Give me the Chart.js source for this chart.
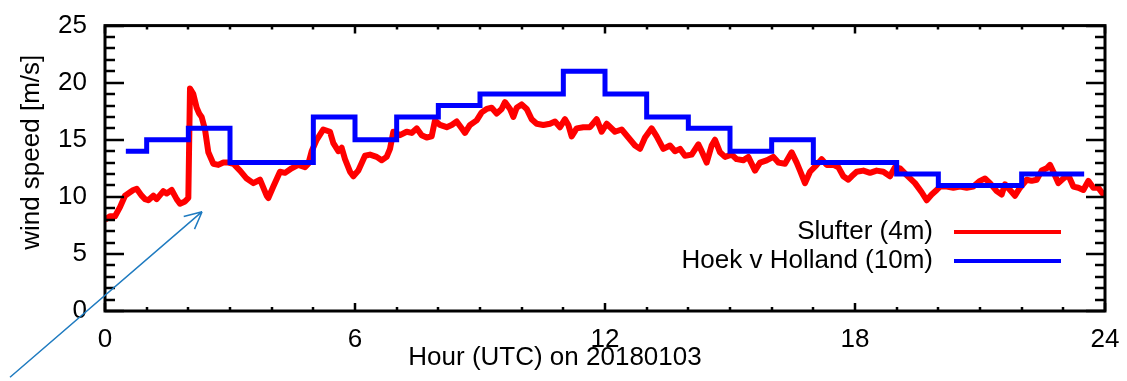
<!DOCTYPE html>
<html>
<head>
<meta charset="utf-8">
<script src="https://cdn.jsdelivr.net/npm/chart.js@4"></script>
<style>
  html, body { margin: 0; padding: 0; background: #fff; }
  #wrap { width: 1127px; height: 381px; }
</style>
</head>
<body>
<div id="wrap"><canvas id="chart" width="1127" height="381"></canvas></div>
<script>
// Hoek v Holland (10m): hourly means, plotted on the half hour
const hoekHours = [0.5, 1.5, 2.5, 3.5, 4.5, 5.5, 6.5, 7.5, 8.5, 9.5, 10.5, 11.5,
    12.5, 13.5, 14.5, 15.5, 16.5, 17.5, 18.5, 19.5, 20.5, 21.5, 22.5, 23.5];
const hoekSpeed = [14, 15, 16, 13, 13, 17, 15, 17, 18, 19, 19, 21,
    19, 17, 16, 14, 15, 13, 13, 12, 11, 11, 12, 12];

// Slufter (4m)
const slufterHours = [0.00, 0.12, 0.24, 0.36, 0.48, 0.60, 0.68, 0.76, 0.88, 0.96,
    1.04, 1.16, 1.24, 1.40, 1.48, 1.60, 1.72, 1.80, 1.92, 2.00,
    2.04, 2.12, 2.20, 2.26, 2.32, 2.40, 2.48, 2.60, 2.72, 2.84,
    2.96, 3.08, 3.24, 3.40, 3.56, 3.72, 3.88, 3.92, 4.04, 4.20,
    4.32, 4.48, 4.64, 4.80, 4.88, 4.96, 5.08, 5.24, 5.40, 5.48,
    5.60, 5.68, 5.76, 5.88, 5.96, 6.08, 6.24, 6.36, 6.52, 6.64,
    6.76, 6.84, 6.92, 7.08, 7.24, 7.36, 7.48, 7.60, 7.72, 7.84,
    7.92, 8.04, 8.20, 8.32, 8.44, 8.56, 8.64, 8.76, 8.92, 9.04,
    9.16, 9.28, 9.40, 9.52, 9.60, 9.72, 9.80, 9.88, 10.00, 10.12,
    10.24, 10.36, 10.52, 10.68, 10.80, 10.92, 11.04, 11.12, 11.20, 11.32,
    11.48, 11.64, 11.80, 11.92, 12.04, 12.24, 12.40, 12.56, 12.72, 12.84,
    12.96, 13.12, 13.24, 13.40, 13.56, 13.68, 13.80, 13.92, 14.08, 14.24,
    14.32, 14.44, 14.56, 14.64, 14.76, 14.88, 15.04, 15.16, 15.32, 15.44,
    15.60, 15.72, 15.88, 16.04, 16.16, 16.32, 16.48, 16.60, 16.68, 16.80,
    16.92, 17.08, 17.20, 17.32, 17.48, 17.60, 17.72, 17.84, 17.92, 18.04,
    18.20, 18.36, 18.52, 18.68, 18.84, 18.96, 19.08, 19.24, 19.44, 19.60,
    19.72, 19.84, 19.96, 20.04, 20.20, 20.36, 20.52, 20.68, 20.84, 21.00,
    21.12, 21.24, 21.40, 21.52, 21.60, 21.72, 21.84, 21.96, 22.12, 22.24,
    22.36, 22.48, 22.60, 22.68, 22.76, 22.88, 23.00, 23.12, 23.24, 23.36,
    23.48, 23.60, 23.72, 23.84, 23.96, 24.00];
const slufterSpeed = [8.0, 8.3, 8.3, 9.1, 10.1, 10.4, 10.6, 10.7, 10.1, 9.8,
    9.7, 10.1, 9.8, 10.5, 10.3, 10.6, 9.8, 9.4, 9.6, 9.9,
    19.5, 19.0, 17.8, 17.3, 17.0, 15.9, 13.9, 12.9, 12.8, 13.0,
    13.0, 12.9, 12.3, 11.6, 11.2, 11.5, 10.1, 9.9, 10.9, 12.2,
    12.1, 12.5, 12.8, 12.6, 12.9, 14.0, 15.0, 15.9, 15.7, 14.7,
    14.0, 14.3, 13.3, 12.2, 11.8, 12.3, 13.6, 13.7, 13.5, 13.2,
    13.5, 14.2, 15.7, 15.4, 15.7, 15.6, 16.0, 15.4, 15.2, 15.3,
    16.7, 16.3, 16.1, 16.3, 16.6, 16.0, 15.6, 16.3, 16.7, 17.4,
    17.7, 17.8, 17.3, 17.7, 18.3, 17.7, 17.0, 17.8, 18.1, 17.7,
    16.8, 16.4, 16.3, 16.4, 16.6, 16.1, 16.8, 16.3, 15.3, 16.0,
    16.1, 16.1, 16.8, 15.7, 16.4, 15.7, 15.9, 15.2, 14.5, 14.2,
    15.2, 16.0, 15.3, 14.2, 14.5, 14.0, 14.2, 13.6, 13.7, 14.6,
    14.0, 13.0, 14.5, 15.0, 13.9, 13.5, 13.7, 13.3, 13.2, 13.5,
    12.3, 13.0, 13.2, 13.5, 13.0, 12.9, 13.9, 13.0, 12.3, 11.2,
    12.2, 12.8, 13.3, 12.8, 12.8, 12.6, 11.8, 11.5, 11.8, 12.2,
    12.3, 12.1, 12.3, 12.2, 11.8, 12.6, 12.5, 11.9, 11.2, 10.4,
    9.7, 10.2, 10.6, 10.9, 10.9, 10.8, 10.9, 10.8, 10.9, 11.4,
    11.6, 11.2, 10.5, 10.2, 11.1, 10.6, 10.1, 10.8, 11.5, 11.4,
    11.5, 12.3, 12.5, 12.8, 12.2, 11.2, 11.6, 11.9, 10.9, 10.8,
    10.6, 11.4, 10.8, 10.8, 10.2, 10.1];

const xTicks = [0, 6, 12, 18, 24];
const yTicks = [0, 5, 10, 15, 20, 25];
const xTitle = 'Hour (UTC) on 20180103';
const yTitle = 'wind speed [m/s]';

// annotation arrow, in data units (hour, m/s)
const arrowFrom = [-2.28, -5.8];
const arrowTo = [2.33, 8.7];

const FONT = '"Liberation Sans", Arial, Helvetica, sans-serif';
const FONT_SIZE = 26;
Chart.defaults.font.family = FONT;
Chart.defaults.color = '#000';

const toPoints = (xs, ys) => xs.map((x, i) => ({ x, y: ys[i] }));

// IDL-style frame: box with inward ticks on all four sides
const framePlugin = {
    id: 'frame',
    afterDatasetsDraw(chart) {
        const { ctx, chartArea: a, scales: { x, y } } = chart;
        ctx.save();
        ctx.strokeStyle = '#000';
        ctx.lineWidth = 3;
        ctx.strokeRect(a.left, a.top, a.right - a.left, a.bottom - a.top);
        ctx.lineWidth = 2.5;
        ctx.beginPath();
        for (let v = y.min; v <= y.max; v++) {
            const py = Math.round(y.getPixelForValue(v));
            const len = v % 5 === 0 ? 19 : 10;
            ctx.moveTo(a.left, py); ctx.lineTo(a.left + len, py);
            ctx.moveTo(a.right, py); ctx.lineTo(a.right - len, py);
        }
        for (let h = x.min; h <= x.max; h++) {
            const px = Math.round(x.getPixelForValue(h));
            const len = h % 6 === 0 ? 8 : 4;
            ctx.moveTo(px, a.bottom); ctx.lineTo(px, a.bottom - len);
            ctx.moveTo(px, a.top); ctx.lineTo(px, a.top + len);
        }
        ctx.stroke();
        ctx.restore();
    },
    afterDraw(chart) {
        const { ctx, chartArea: a, scales: { x, y } } = chart;
        ctx.save();
        ctx.fillStyle = '#000';
        ctx.font = FONT_SIZE + 'px ' + FONT;
        ctx.textBaseline = 'middle';

        // axis titles
        ctx.textAlign = 'center';
        ctx.fillText(xTitle, (a.left + a.right) / 2 - 50, a.bottom + 47);
        ctx.save();
        ctx.translate(32, (a.top + a.bottom) / 2 - 16);
        ctx.rotate(-Math.PI / 2);
        ctx.fillText(yTitle, 0, 0);
        ctx.restore();

        // legend: label then line sample
        const order = [1, 0];
        order.forEach((di, k) => {
            const ds = chart.data.datasets[di];
            const ly = a.bottom - 79 + k * 29;
            ctx.textAlign = 'right';
            ctx.fillText(ds.label, a.right - 172, ly);
            ctx.strokeStyle = ds.borderColor;
            ctx.lineWidth = 4;
            ctx.beginPath();
            ctx.moveTo(a.right - 151, ly);
            ctx.lineTo(a.right - 44, ly);
            ctx.stroke();
        });

        // blue annotation arrow
        const x0 = x.getPixelForValue(arrowFrom[0]), y0 = y.getPixelForValue(arrowFrom[1]);
        const x1 = x.getPixelForValue(arrowTo[0]), y1 = y.getPixelForValue(arrowTo[1]);
        const ang = Math.atan2(y1 - y0, x1 - x0);
        ctx.strokeStyle = '#1f7bc0';
        ctx.lineWidth = 1.5;
        ctx.beginPath();
        ctx.moveTo(x0, y0);
        ctx.lineTo(x1, y1);
        [0.45, -0.45].forEach(d => {
            ctx.moveTo(x1, y1);
            ctx.lineTo(x1 - 19 * Math.cos(ang + d), y1 - 19 * Math.sin(ang + d));
        });
        ctx.stroke();
        ctx.restore();
    }
};

new Chart(document.getElementById('chart'), {
    type: 'line',
    data: {
        datasets: [{
            label: 'Hoek v Holland (10m)',
            data: toPoints(hoekHours, hoekSpeed),
            borderColor: '#0000ff',
            borderWidth: 5,
            stepped: 'middle',
            pointRadius: 0,
            order: 0
        }, {
            label: 'Slufter (4m)',
            data: toPoints(slufterHours, slufterSpeed),
            borderColor: '#ff0000',
            borderWidth: 6,
            borderJoinStyle: 'round',
            tension: 0,
            pointRadius: 0,
            order: 1
        }]
    },
    options: {
        responsive: false,
        animation: false,
        events: [],
        layout: { padding: { top: 15, right: 22, left: 0, bottom: 0 } },
        plugins: {
            legend: { display: false },
            tooltip: { enabled: false }
        },
        scales: {
            x: {
                type: 'linear',
                min: 0,
                max: 24,
                grid: { display: false },
                border: { display: false },
                afterFit: s => { s.height = 70; },
                afterBuildTicks: s => { s.ticks = xTicks.map(v => ({ value: v })); },
                ticks: { font: { size: FONT_SIZE }, padding: 5, maxRotation: 0 }
            },
            y: {
                min: 0,
                max: 25,
                grid: { display: false },
                border: { display: false },
                afterFit: s => { s.width = 105; },
                afterBuildTicks: s => { s.ticks = yTicks.map(v => ({ value: v })); },
                ticks: { font: { size: FONT_SIZE }, padding: 10 }
            }
        }
    },
    plugins: [framePlugin]
});
</script>
</body>
</html>
